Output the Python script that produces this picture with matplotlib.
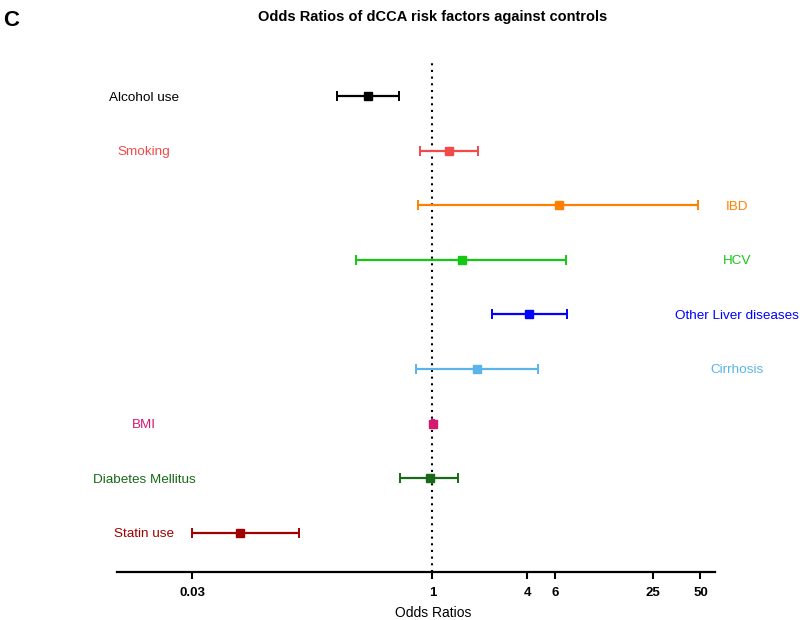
import matplotlib.pyplot as plt
import matplotlib.transforms as mtransforms
import numpy as np

# risk factors, top to bottom
factors = ['Alcohol use', 'Smoking', 'IBD', 'HCV', 'Other Liver diseases',
           'Cirrhosis', 'BMI', 'Diabetes Mellitus', 'Statin use']
odds = [0.39, 1.27, 6.3, 1.54, 4.1, 1.92, 1.01, 0.96, 0.060]
ci_low = [0.25, 0.84, 0.81, 0.33, 2.38, 0.79, 0.99, 0.62, 0.030]
ci_high = [0.61, 1.94, 48.5, 7.0, 7.1, 4.64, 1.03, 1.46, 0.142]
colors = ['#000000', '#F04A4A', '#FF8000', '#14C814', '#0000FF',
          '#5AB4EA', '#D6186E', '#186A18', '#A00000']
label_side = ['left', 'left', 'right', 'right', 'right',
              'right', 'left', 'left', 'left']
tick_vals = [0.03, 1, 4, 6, 25, 50]
tick_lbls = ['0.03', '1', '4', '6', '25', '50']

plt.rcParams['font.family'] = ['Liberation Sans', 'DejaVu Sans']

fig = plt.figure(figsize=(8, 6.2), dpi=100)
ax = fig.add_axes([0.146, 0.0774, 0.748, 0.8276])

n = len(factors)
ypos = np.arange(n, 0, -1)

ax.axvline(1, color='black', linestyle=(0, (1, 2.2)), linewidth=1.5, zorder=1)

for i in range(n):
    err = [[odds[i] - ci_low[i]], [ci_high[i] - odds[i]]]
    ax.errorbar(odds[i], ypos[i], xerr=err, fmt='s', color=colors[i],
                markersize=6, elinewidth=1.6, capsize=3.5, capthick=1.4, zorder=3)

ax.set_xscale('log')
ax.set_xlim(0.01, 62)
ax.set_ylim(0.28, 9.68)
ax.set_xticks(tick_vals)
ax.set_xticklabels(tick_lbls, fontweight='bold', fontsize=9.5)
ax.xaxis.set_minor_locator(plt.NullLocator())
ax.set_yticks([])
for s in ['left', 'right', 'top']:
    ax.spines[s].set_visible(False)
ax.spines['bottom'].set_linewidth(1.6)
ax.tick_params(axis='x', length=5, width=1.5, pad=6)
ax.set_xlabel('Odds Ratios', fontsize=10)
ax.xaxis.set_label_coords((433 - 117) / 598, -(613 - 572) / 513)
ax.xaxis.label.set_va('center')

# factor names, left or right of the plot
trans = mtransforms.blended_transform_factory(fig.transFigure, ax.transData)
for i in range(n):
    xf = 144 / 800 if label_side[i] == 'left' else 737 / 800
    ax.text(xf, ypos[i], factors[i], transform=trans, ha='center',
            va='center_baseline', color=colors[i], fontsize=9.7, clip_on=False)

fig.text(433 / 800, 1 - 17 / 620, 'Odds Ratios of dCCA risk factors against controls',
         ha='center', va='center', fontweight='bold', fontsize=10.5)
fig.text(3 / 800, 1 - 20 / 620, 'C', ha='left', va='center',
         fontweight='bold', fontsize=16)

plt.savefig('out.png', dpi=100)
plt.close(fig)
